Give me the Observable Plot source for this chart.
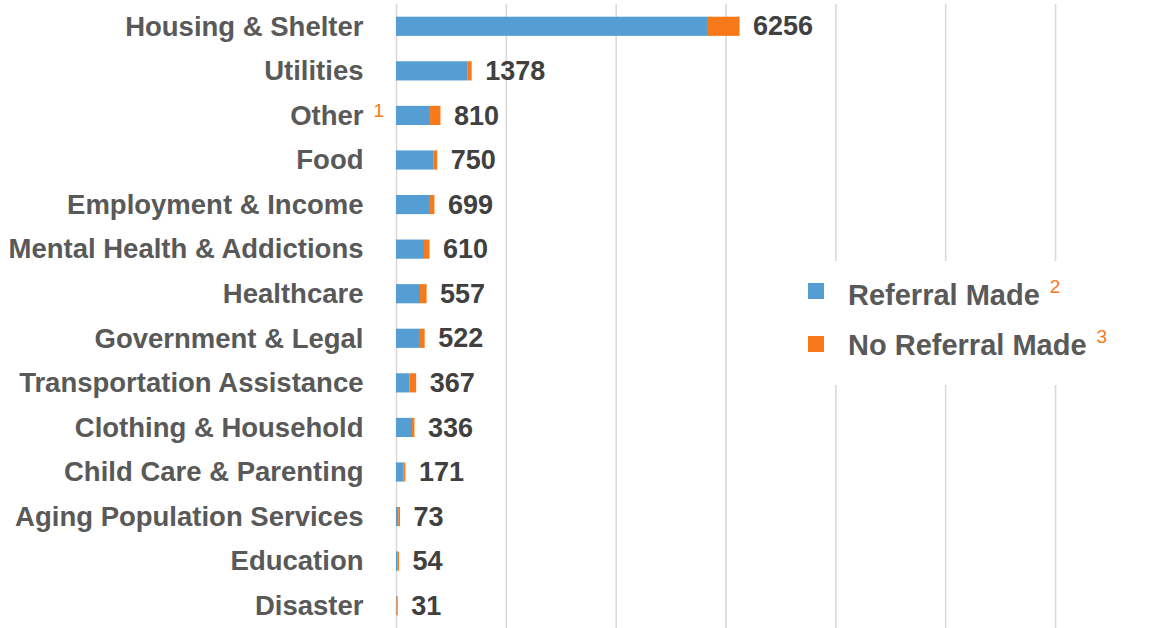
<!DOCTYPE html>
<html>
<head>
<meta charset="utf-8">
<script src="https://cdn.jsdelivr.net/npm/d3@7"></script>
<script src="https://cdn.jsdelivr.net/npm/@observablehq/plot@0.6"></script>
<style>
  html, body { margin: 0; padding: 0; background: #fff; }
  #wrap { position: relative; width: 1157px; height: 628px; font-family: "Liberation Sans", Arial, sans-serif; }
  #legend { position: absolute; left: 795px; top: 261px; width: 325px; height: 124px; background: #fff; }
  .sw { position: absolute; left: 13px; width: 16px; height: 16px; }
  .lab { position: absolute; left: 53px; font-size: 29px; font-weight: bold; color: #595959; line-height: 34px; white-space: nowrap; }
  .sup { font-size: 19px; font-weight: normal; color: #F8791A; position: relative; top: -12px; margin-left: 10px; }
</style>
</head>
<body>
<div id="wrap"></div>
<script>
const categories = ["Housing & Shelter","Utilities","Other","Food","Employment & Income","Mental Health & Addictions","Healthcare","Government & Legal","Transportation Assistance","Clothing & Household","Child Care & Parenting","Aging Population Services","Education","Disaster"];
const referralMade = [5680,1306,620,687,601,510,437,419,243,292,140,40,32,8];
const noReferralMade = [576,72,190,63,98,100,120,103,124,44,31,33,22,23];
const totals = [6256,1378,810,750,699,610,557,522,367,336,171,73,54,31];
const seriesNames = ["Referral Made","No Referral Made"];
const seriesNotes = ["2","3"];
const seriesColors = ["#549ED3","#F8791A"];
const categoryNotes = [{category: "Other", note: "1"}];
const xTicks = [0,2000,4000,6000,8000,10000,12000];

const long = [];
categories.forEach((c, i) => {
  long.push({category: c, series: seriesNames[0], value: referralMade[i]});
  long.push({category: c, series: seriesNames[1], value: noReferralMade[i]});
});
const totalRows = categories.map((c, i) => ({category: c, total: totals[i]}));

const chart = Plot.plot({
  width: 1157,
  height: 628,
  marginLeft: 396,
  marginRight: 102,
  marginTop: 4,
  marginBottom: 0,
  style: {fontFamily: '"Liberation Sans", Arial, sans-serif', color: "#595959", background: "#fff"},
  x: {domain: [0, 12000], axis: null},
  y: {domain: categories, paddingInner: 0.57, paddingOuter: 0.285, round: false, label: null},
  color: {domain: seriesNames, range: seriesColors},
  marks: [
    Plot.gridX(xTicks, {stroke: "#d9d9d9", strokeOpacity: 1, strokeWidth: 1.6}),
    Plot.barX(long, {x: "value", y: "category", fill: "series"}),
    Plot.text(totalRows, {x: "total", y: "category", text: d => String(d.total), textAnchor: "start", dx: 13, fontSize: 27, fontWeight: "bold", fill: "#404040"}),
    Plot.axisY({tickSize: 0, tickPadding: 33, fontSize: 27.5, fontWeight: "bold", label: null, fill: "#595959"}),
    Plot.text(categoryNotes, {x: () => 0, y: "category", text: "note", textAnchor: "start", dx: -23, dy: -5, fontSize: 19, fill: "#F8791A"})
  ]
});

const wrap = document.getElementById("wrap");
wrap.appendChild(chart);

const legend = document.createElement("div");
legend.id = "legend";
const swatchTops = [283, 336];
const labelTops = [278, 328];
seriesNames.forEach((name, i) => {
  const sw = document.createElement("div");
  sw.className = "sw";
  sw.style.top = (swatchTops[i] - 261) + "px";
  sw.style.background = seriesColors[i];
  const lab = document.createElement("div");
  lab.className = "lab";
  lab.style.top = (labelTops[i] - 261) + "px";
  lab.textContent = name;
  const sup = document.createElement("span");
  sup.className = "sup";
  sup.textContent = seriesNotes[i];
  lab.appendChild(sup);
  legend.appendChild(sw);
  legend.appendChild(lab);
});
wrap.appendChild(legend);
</script>
</body>
</html>
